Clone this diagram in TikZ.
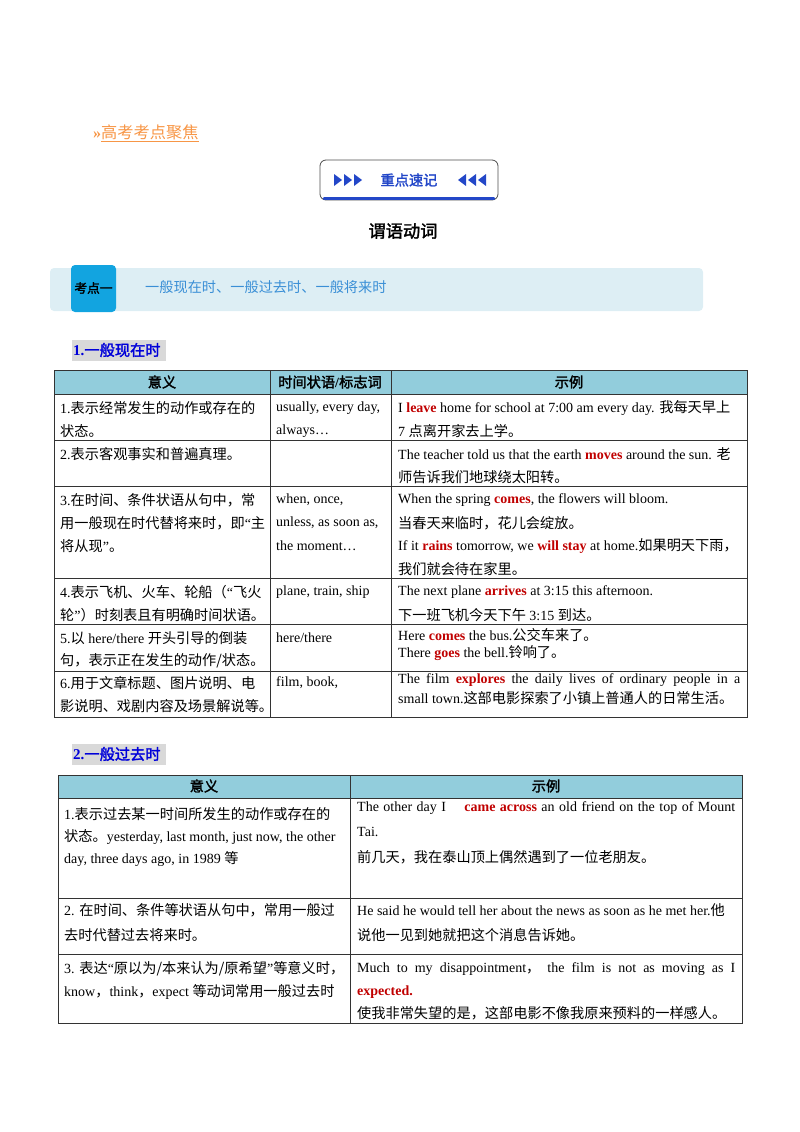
\documentclass[tikz,border=0pt]{standalone}
\usepackage{fontspec}
\setmainfont{Liberation Serif}
\newfontfamily\cjk[Scale=1.014]{Noto Sans CJK SC}
\newfontfamily\cjkb[Scale=1.014,FakeBold=2]{Noto Sans CJK SC}
\newcommand\zh[1]{{\cjk #1}}
\newcommand\zhb[1]{{\cjkb #1}}
\definecolor{keyred}{HTML}{C00000}
\definecolor{headblue}{HTML}{92CDDC}
\definecolor{orangeh}{HTML}{F79646}
\definecolor{btnblue}{HTML}{2347C8}
\definecolor{bandblue}{HTML}{DDEEF4}
\definecolor{tagblue}{HTML}{12A4E0}
\definecolor{secblue}{HTML}{3A8FD6}
\definecolor{hlgray}{HTML}{D9D9D9}
\newcommand\hl[1]{\textcolor{keyred}{\textbf{#1}}}
\tikzset{
  cell/.style={anchor=west, inner sep=0pt, font=\fontsize{14}{16}\selectfont},
  head/.style={inner sep=0pt, font=\fontsize{14}{16}\selectfont},
  grid/.style={draw=black!80, line width=0.6pt},
}
\begin{document}
\begin{tikzpicture}[x=1pt, y=-1pt]
\useasboundingbox (0,0) rectangle (800,1132);
% Kopf
\node[cell, text=orangeh, font=\fontsize{16}{18}\selectfont] (focus) at (93,133) {\textbf{»}\underline{\zh{高考考点聚焦}}};
\draw[draw=black!70, rounded corners=6pt, line width=0.8pt] (320,160) rectangle (498,200);
\draw[btnblue, line width=2.5pt, line cap=round] (324,198.5) -- (494,198.5);
\foreach \tx in {334,344,354}
  \fill[btnblue] (\tx,174) -- (\tx+8,180) -- (\tx,186) -- cycle;
\foreach \tx in {466,476,486}
  \fill[btnblue] (\tx,174) -- (\tx-8,180) -- (\tx,186) -- cycle;
\node[head] (memo) at (409,180) {\textcolor{btnblue}{\zhb{重点速记}}};
\node[head, font=\fontsize{17}{20}\selectfont] (title) at (403,231) {\zhb{谓语动词}};
% Band
\fill[bandblue, rounded corners=4pt] (50,268) rectangle (703,311);
\fill[tagblue, rounded corners=4pt] (71,265) rectangle (116,312);
\node[head, font=\fontsize{12.5}{14}\selectfont] (tag) at (93.5,288) {\zhb{考点一}};
\node[cell, text=secblue] (band) at (145,287) {\zh{一般现在时、一般过去时、一般将来时}};
% Abschnitt 1
\fill[hlgray] (72,340) rectangle (166,361);
\node[cell, text=blue!85!black, font=\fontsize{15}{17}\selectfont] (sec1) at (73,350) {\textbf{1.}\zhb{一般现在时}};
\fill[headblue] (54,370) rectangle (747,394);
\draw[grid] (54,370) rectangle (747,717);
\foreach \ry in {394,440,486,578,624,671}
  \draw[grid] (54,\ry) -- (747,\ry);
\draw[grid] (270,370) -- (270,717);
\draw[grid] (391,370) -- (391,717);
\node[head] (h1a) at (162,382) {\zhb{意义}};
\node[head] (h1b) at (330,382) {\zhb{时间状语}\textbf{/}\zhb{标志词}};
\node[head] (h1c) at (569,382) {\zhb{示例}};
% Zeile 1
\node[cell] (a1) at (60,408) {1.\zh{表示经常发生的动作或存在的}};
\node[cell] (a2) at (60,431) {\zh{状态。}};
\node[cell] (b1) at (276,408) {usually, every day,};
\node[cell] (b2) at (276,431) {always…};
\node[cell] (c1) at (398,408) {I \hl{leave} home for school at 7:00 am every day. \zh{我每天早上}};
\node[cell] (c2) at (398,431) {7 \zh{点离开家去上学。}};
% Zeile 2
\node[cell] (a3) at (60,454) {2.\zh{表示客观事实和普遍真理。}};
\node[cell] (c3) at (398,454) {The teacher told us that the earth \hl{moves} around the sun. \zh{老}};
\node[cell] (c4) at (398,477) {\zh{师告诉我们地球绕太阳转。}};
% Zeile 3
\node[cell] (a4) at (60,500) {3.\zh{在时间、条件状语从句中，常}};
\node[cell] (a5) at (60,523) {\zh{用一般现在时代替将来时，即}“\zh{主}};
\node[cell] (a6) at (60,546) {\zh{将从现}”\zh{。}};
\node[cell] (b3) at (276,500) {when, once,};
\node[cell] (b4) at (276,523) {unless, as soon as,};
\node[cell] (b5) at (276,546) {the moment…};
\node[cell] (c5) at (398,500) {When the spring \hl{comes}, the flowers will bloom.};
\node[cell] (c6) at (398,523) {\zh{当春天来临时，花儿会绽放。}};
\node[cell] (c7) at (398,546) {If it \hl{rains} tomorrow, we \hl{will stay} at home.\zh{如果明天下雨，}};
\node[cell] (c8) at (398,569) {\zh{我们就会待在家里。}};
% Zeile 4
\node[cell] (a7) at (60,592) {4.\zh{表示飞机、火车、轮船（}“\zh{飞火}};
\node[cell] (a8) at (60,615) {\zh{轮}”\zh{）时刻表且有明确时间状语。}};
\node[cell] (b6) at (276,592) {plane, train, ship};
\node[cell] (c9) at (398,592) {The next plane \hl{arrives} at 3:15 this afternoon.};
\node[cell] (c10) at (398,615) {\zh{下一班飞机今天下午} 3:15 \zh{到达。}};
% Zeile 5
\node[cell] (a9) at (60,638) {5.\zh{以} here/there \zh{开头引导的倒装}};
\node[cell] (a10) at (60,661) {\zh{句，表示正在发生的动作/状态。}};
\node[cell] (b7) at (276,638) {here/there};
\node[cell] (c11) at (398,635) {Here \hl{comes} the bus.\zh{公交车来了。}};
\node[cell] (c12) at (398,653) {There \hl{goes} the bell.\zh{铃响了。}};
% Zeile 6
\node[cell] (a11) at (60,683) {6.\zh{用于文章标题、图片说明、电}};
\node[cell] (a12) at (60,706) {\zh{影说明、戏剧内容及场景解说等。}};
\node[cell] (b8) at (276,683) {film, book,};
\node[cell] (c13) at (398,680) {\makebox[342pt][s]{The film \hl{explores} the daily lives of ordinary people in a}};
\node[cell] (c14) at (398,698) {small town.\zh{这部电影探索了小镇上普通人的日常生活。}};
% Abschnitt 2
\fill[hlgray] (72,744) rectangle (166,765);
\node[cell, text=blue!85!black, font=\fontsize{15}{17}\selectfont] (sec2) at (73,754) {\textbf{2.}\zhb{一般过去时}};
\fill[headblue] (58,775) rectangle (742,798);
\draw[grid] (58,775) rectangle (742,1023);
\foreach \ry in {798,898,954}
  \draw[grid] (58,\ry) -- (742,\ry);
\draw[grid] (350,775) -- (350,1023);
\node[head] (h2a) at (204,786) {\zhb{意义}};
\node[head] (h2b) at (546,786) {\zhb{示例}};
\node[cell] (d1) at (64,814) {1.\zh{表示过去某一时间所发生的动作或存在的}};
\node[cell] (d2) at (64,837) {\zh{状态。}yesterday, last month, just now, the other};
\node[cell] (d3) at (64,859) {day, three days ago, in 1989 \zh{等}};
\node[cell] (e1) at (357,808) {\makebox[378pt][s]{The other day I \quad\hl{came across} an old friend on the top of Mount}};
\node[cell] (e2) at (357,832) {Tai.};
\node[cell] (e3) at (357,857) {\zh{前几天，我在泰山顶上偶然遇到了一位老朋友。}};
\node[cell] (d4) at (64,910) {2. \zh{在时间、条件等状语从句中，常用一般过}};
\node[cell] (d5) at (64,935) {\zh{去时代替过去将来时。}};
\node[cell] (e4) at (357,910) {He said he would tell her about the news as soon as he met her.\zh{他}};
\node[cell] (e5) at (357,935) {\zh{说他一见到她就把这个消息告诉她。}};
\node[cell] (d6) at (64,969) {3. \zh{表达}“\zh{原以为/本来认为/原希望}”\zh{等意义时，}};
\node[cell] (d7) at (64,992) {know\zh{，}think\zh{，}expect \zh{等动词常用一般过去时}};
\node[cell] (e6) at (357,969) {\makebox[378pt][s]{Much to my disappointment\zh{，} the film is not as moving as I}};
\node[cell] (e7) at (357,992) {\hl{expected.}};
\node[cell] (e8) at (357,1013) {\zh{使我非常失望的是，这部电影不像我原来预料的一样感人。}};
\end{tikzpicture}
\end{document}
